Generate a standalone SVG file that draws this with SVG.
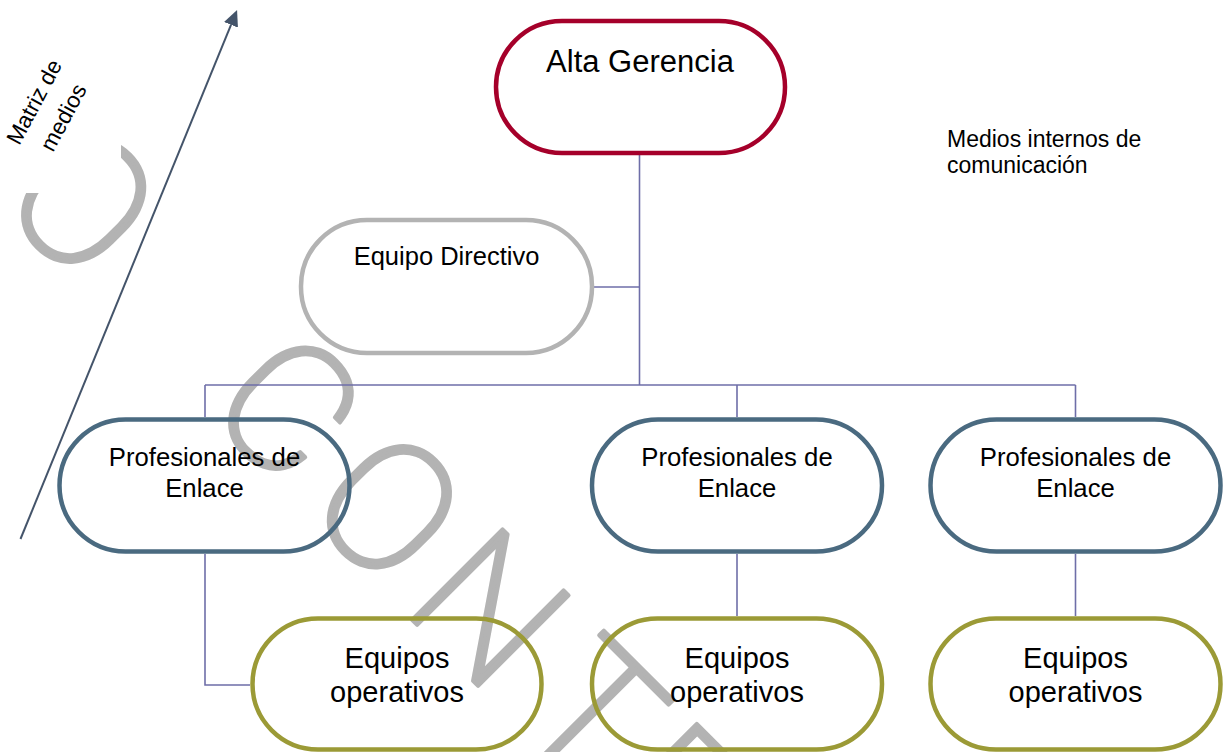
<svg xmlns="http://www.w3.org/2000/svg" width="1224" height="752" viewBox="0 0 1224 752">
<style>
.node{fill:none;stroke-width:4.5}
.red{stroke:#A5002A}
.gray{stroke:#B3B3B3}
.blue{stroke:#4A6A80}
.olive{stroke:#9B9A36}
.conn{fill:none;stroke:#6E6EA8;stroke-width:1.6}
.t{font-family:"Liberation Sans",Arial,sans-serif;fill:#000;text-anchor:middle}
.wm{font-family:Roboto,Lato,"Open Sans",sans-serif;font-weight:200;font-size:180px;fill:#B3B3B3;stroke:#B3B3B3;stroke-width:4;stroke-linejoin:round;text-anchor:middle}
</style>
<defs>
<clipPath id="wmclip">
<rect x="121" y="0" width="1103" height="752"/>
<rect x="0" y="193" width="121" height="559"/>
</clipPath>
<marker id="ah" viewBox="0 0 16 15" refX="0" refY="7.5" markerWidth="16" markerHeight="15" markerUnits="userSpaceOnUse" orient="auto">
<path d="M0,0 L16,7.5 L0,15 z" fill="#44546A"/>
</marker>
</defs>

<g id="watermark" clip-path="url(#wmclip)">
<g transform="rotate(45)">
<text class="wm" y="147"><tspan x="201.5">O</tspan><tspan x="492 633.6 776.4 922 1046">CONTR</tspan></text>
</g>
</g>

<g id="axis">
<line x1="20.5" y1="539" x2="231" y2="24.8" stroke="#44546A" stroke-width="2" marker-end="url(#ah)"/>
<g transform="translate(48.5,109.5) rotate(-62)">
<text class="t" x="0" y="-8.5" font-size="22.5">Matriz de</text>
<text class="t" x="0" y="24.5" font-size="22.5">medios</text>
</g>
</g>

<g id="legend">
<text x="947" y="146.5" font-family="Liberation Sans,Arial,sans-serif" font-size="23" fill="#000">Medios internos de</text>
<text x="947" y="173" font-family="Liberation Sans,Arial,sans-serif" font-size="23" fill="#000">comunicación</text>
</g>

<g id="connectors">
<path class="conn" d="M639.5,155 V385"/>
<path class="conn" d="M594,287 H639.5"/>
<path class="conn" d="M205,385 H1075.5"/>
<path class="conn" d="M205,385 V417 M737,385 V417 M1075.5,385 V417"/>
<path class="conn" d="M205,554 V685 H250"/>
<path class="conn" d="M737,554 V616"/>
<path class="conn" d="M1075.5,554 V616"/>
</g>

<g id="alta-gerencia">
<rect class="node red" x="496" y="21" width="289" height="132" rx="66"/>
<text class="t" x="640" y="72" font-size="31">Alta Gerencia</text>
</g>

<g id="equipo-directivo">
<rect class="node gray" x="301" y="220" width="291" height="133" rx="66"/>
<text class="t" x="446.5" y="265" font-size="25.5">Equipo Directivo</text>
</g>

<g id="profesionales-1">
<rect class="node blue" x="59.5" y="419.5" width="290" height="132" rx="66"/>
<text class="t" x="204.5" y="466" font-size="25.7">Profesionales de</text>
<text class="t" x="204.5" y="497" font-size="25.7">Enlace</text>
</g>

<g id="profesionales-2">
<rect class="node blue" x="592" y="419.5" width="290" height="132" rx="66"/>
<text class="t" x="737" y="466" font-size="25.7">Profesionales de</text>
<text class="t" x="737" y="497" font-size="25.7">Enlace</text>
</g>

<g id="profesionales-3">
<rect class="node blue" x="930.5" y="419.5" width="290" height="132" rx="66"/>
<text class="t" x="1075.5" y="466" font-size="25.7">Profesionales de</text>
<text class="t" x="1075.5" y="497" font-size="25.7">Enlace</text>
</g>

<g id="equipos-1">
<rect class="node olive" x="252.5" y="618.5" width="289" height="131" rx="65.5"/>
<text class="t" x="397" y="668" font-size="29">Equipos</text>
<text class="t" x="397" y="702" font-size="29">operativos</text>
</g>

<g id="equipos-2">
<rect class="node olive" x="592" y="618.5" width="290" height="131" rx="65.5"/>
<text class="t" x="737" y="668" font-size="29">Equipos</text>
<text class="t" x="737" y="702" font-size="29">operativos</text>
</g>

<g id="equipos-3">
<rect class="node olive" x="930.5" y="618.5" width="290" height="131" rx="65.5"/>
<text class="t" x="1075.5" y="668" font-size="29">Equipos</text>
<text class="t" x="1075.5" y="702" font-size="29">operativos</text>
</g>
</svg>
